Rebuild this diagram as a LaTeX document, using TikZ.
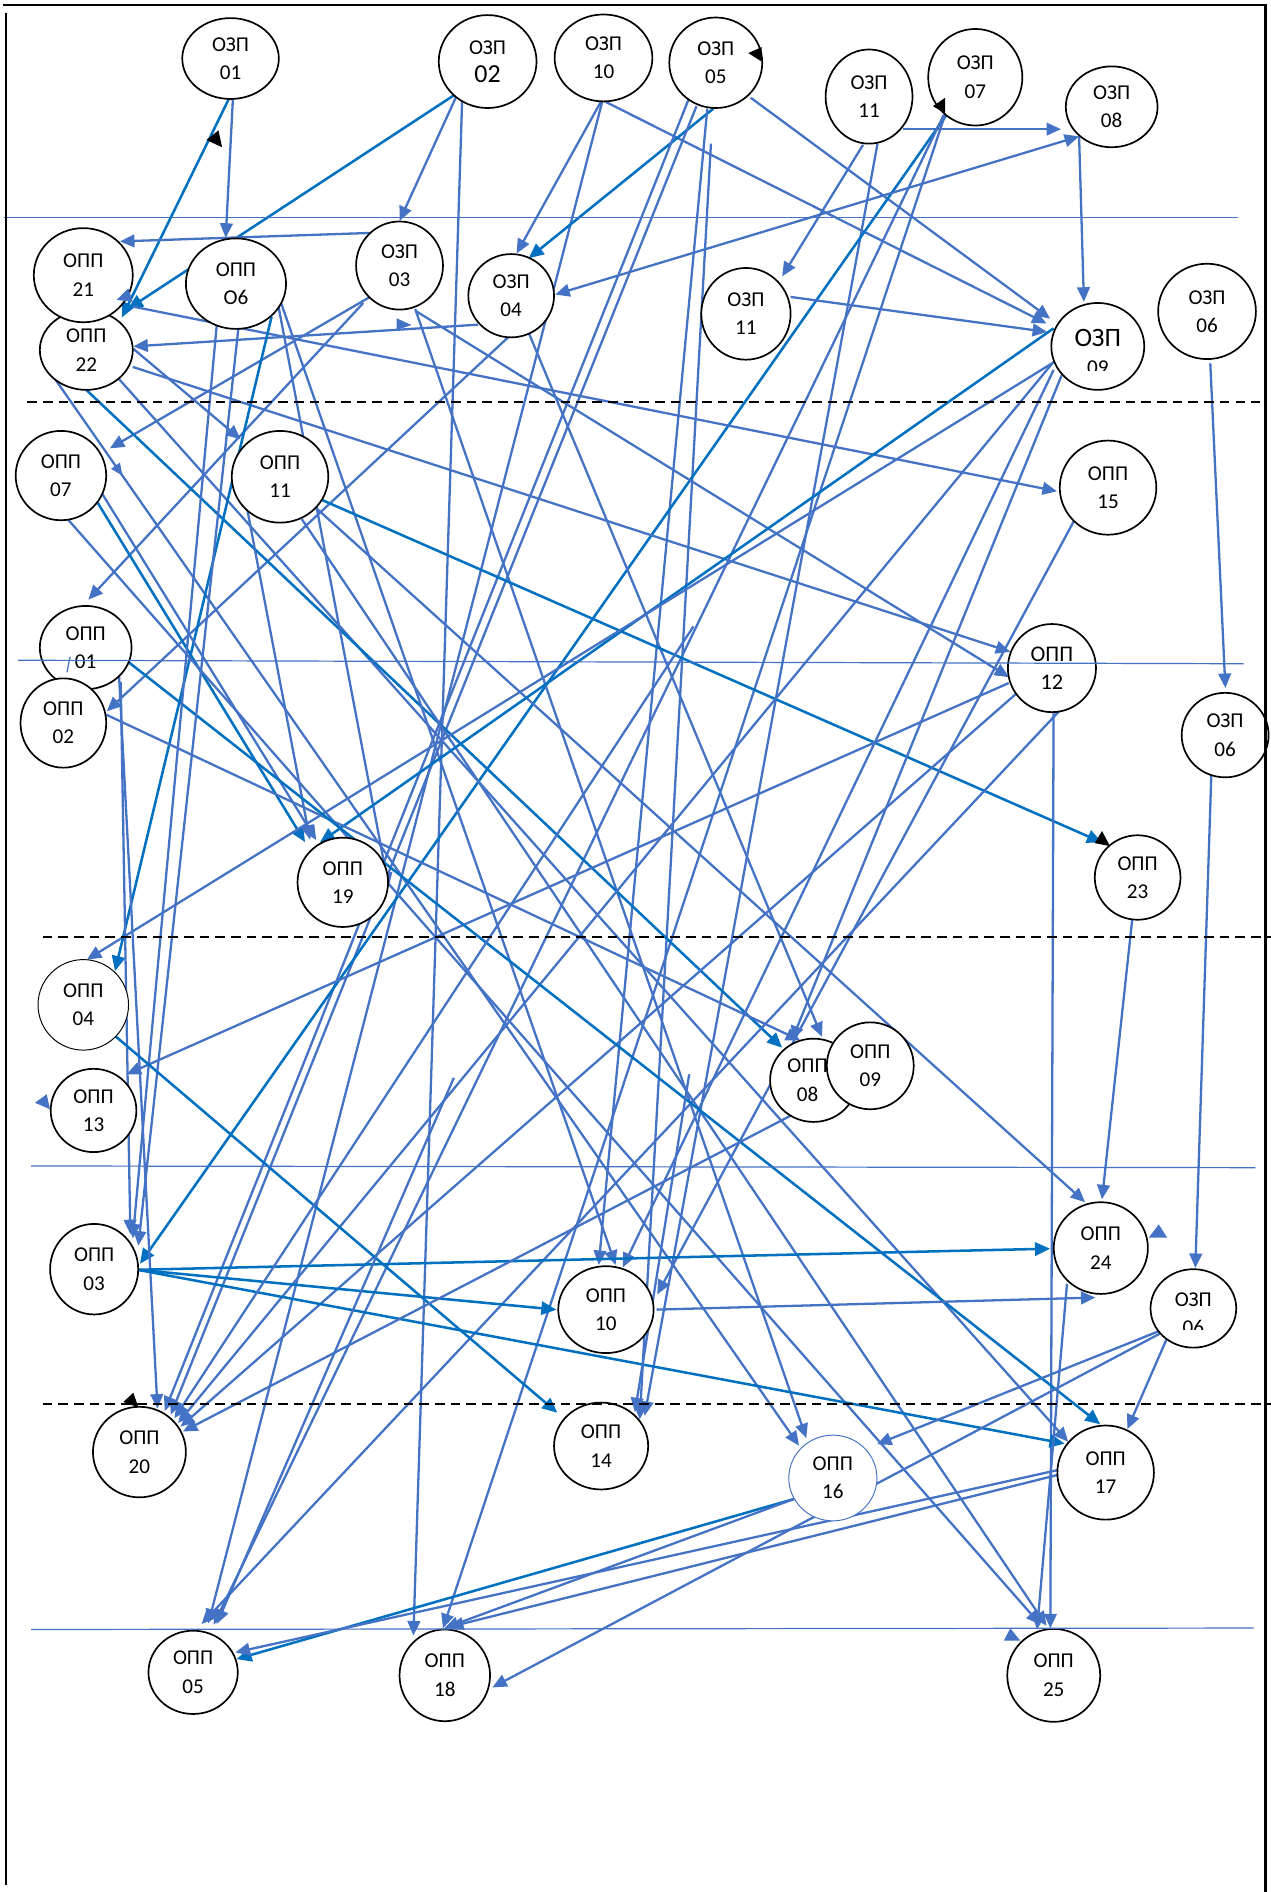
\documentclass[tikz,border=0pt]{standalone}
\usepackage{fontspec}
\setmainfont{Carlito}
\usetikzlibrary{calc,arrows.meta,shapes.geometric}
\definecolor{lblue}{HTML}{4472C4}
\definecolor{dblue}{HTML}{0070C0}
\pgfdeclarelayer{edges}
\pgfsetlayers{edges,main}
\newcommand\conn[5]{\draw[#1] ($(#2)+(#3)$) -- ($(#4)+(#5)$);}
\newcommand\fconn[4]{\draw[#1] (#2) -- ($(#3)+(#4)$);}
\begin{document}
\begin{tikzpicture}[x=1pt,y=-1pt,
  nd/.style={ellipse,draw=black,line width=1.4pt,fill=white,inner sep=0pt,align=center,font=\fontsize{17.5}{23.5}\selectfont},
  txt/.style={inner sep=0pt,align=center,font=\fontsize{17.5}{23.5}\selectfont},
  lb/.style={draw=lblue,line width=1.9pt,-{Triangle[length=12pt,width=10.5pt]}},
  lbb/.style={draw=lblue,line width=1.9pt,{Triangle[length=12pt,width=10.5pt]}-{Triangle[length=12pt,width=10.5pt]}},
  db/.style={draw=dblue,line width=2.1pt,-{Triangle[length=12.5pt,width=11pt]}},
  hl/.style={draw=lblue,line width=1pt},
  dl/.style={draw=black,line width=1.5pt,dash pattern=on 8pt off 5pt},
  fr/.style={draw=black,line width=1.9pt}]
\useasboundingbox (0,0) rectangle (1053,1567.5);

% ---------- nodes ----------
\node[nd,minimum width=80pt,minimum height=67pt] (ozp01) at (191,48.5) {ОЗП\\01};
\node[nd,minimum width=81pt,minimum height=77pt] (ozp02) at (404,51) {ОЗП\\{\fontsize{21.5}{23}\selectfont 02}};
\node[nd,minimum width=81pt,minimum height=72pt] (ozp10) at (500,48) {ОЗП\\10};
\node[nd,minimum width=77pt,minimum height=75pt] (ozp05) at (593,52) {ОЗП\\05};
\node[nd,minimum width=72pt,minimum height=78pt] (ozp11a) at (720,80) {ОЗП\\11};
\node[nd,minimum width=78pt,minimum height=80pt] (ozp07) at (808,64) {ОЗП\\07};
\node[nd,minimum width=76pt,minimum height=67pt] (ozp08) at (921,88.5) {ОЗП\\08};
\node[nd,minimum width=77pt,minimum height=66pt] (opp22) at (71.5,290) {ОПП\\22};
\node[nd,minimum width=82pt,minimum height=78pt] (opp21) at (69,228) {ОПП\\21};
\node[nd,minimum width=83pt,minimum height=75pt] (opp06) at (195.5,235) {ОПП\\О6};
\node[nd,minimum width=72pt,minimum height=73pt] (ozp03) at (331,220) {ОЗП\\03};
\node[nd,minimum width=71pt,minimum height=69pt] (ozp04) at (423.5,245) {ОЗП\\04};
\node[nd,minimum width=74pt,minimum height=76pt] (ozp11b) at (618,260) {ОЗП\\11};
\node[nd,minimum width=77pt,minimum height=72pt] (ozp09) at (909.5,287) {};
\begin{scope}
\clip (870,255) rectangle (950,307);
\node[txt] (ozp09t) at (909.5,291.5) {{\fontsize{22}{23}\selectfont ОЗП}\\09};
\end{scope}
\node[nd,minimum width=81pt,minimum height=79pt] (ozp06a) at (1000,258) {ОЗП\\06};
\node[nd,minimum width=75pt,minimum height=74pt] (opp07) at (50.5,394) {ОПП\\07};
\node[nd,minimum width=80pt,minimum height=76pt] (opp11) at (232,395) {ОПП\\11};
\node[nd,minimum width=80pt,minimum height=78pt] (opp15) at (918,404) {ОПП\\15};
\node[nd,minimum width=76pt,minimum height=69pt] (opp01) at (71,536.5) {ОПП\\01};
\node[nd,minimum width=71pt,minimum height=74pt] (opp02) at (52.5,599) {ОПП\\02};
\node[nd,minimum width=73pt,minimum height=73pt,font=\fontsize{18.5}{23.5}\selectfont] (opp12) at (871.5,553.5) {ОПП\\12};
\node[nd,minimum width=72pt,minimum height=70pt] (ozp06b) at (1015,609) {ОЗП\\06};
\node[nd,minimum width=75pt,minimum height=74pt] (opp19) at (284,731) {ОПП\\19};
\node[nd,minimum width=71pt,minimum height=70pt] (opp23) at (942.5,727) {ОПП\\23};
\node[nd,line width=0.8pt,minimum width=75pt,minimum height=75pt] (opp04) at (69,832.5) {ОПП\\04};
\node[nd,minimum width=72pt,minimum height=69pt] (opp08) at (674,895) {\hspace*{-10pt}ОПП\\\hspace*{-10pt}08};
\node[nd,minimum width=72pt,minimum height=72pt] (opp09) at (721,883) {ОПП\\09};
\node[nd,minimum width=71pt,minimum height=69pt] (opp13) at (77.5,920) {ОПП\\13};
\node[nd,minimum width=73pt,minimum height=75pt] (opp03) at (78,1051.5) {ОПП\\03};
\node[nd,minimum width=78pt,minimum height=76pt] (opp24) at (912,1034) {ОПП\\24};
\node[nd,minimum width=79pt,minimum height=72pt] (opp10) at (502,1085) {ОПП\\10};
\node[nd,minimum width=71pt,minimum height=65pt] (ozp06c) at (988.7,1084) {};
\begin{scope}
\clip (945,1045) rectangle (1035,1101.5);
\node[txt] (ozp06ct) at (988.7,1088.5) {ОЗП\\06};
\end{scope}
\node[nd,minimum width=77pt,minimum height=75pt] (opp20) at (115.5,1203) {ОПП\\20};
\node[nd,minimum width=78pt,minimum height=72pt] (opp14) at (498,1198) {ОПП\\14};
\node[nd,draw=lblue,line width=0.8pt,minimum width=73pt,minimum height=71pt] (opp16) at (690,1224.5) {ОПП\\16};
\node[nd,minimum width=80pt,minimum height=78pt] (opp17) at (916,1220) {ОПП\\17};
\node[nd,minimum width=74pt,minimum height=69pt] (opp05) at (160,1385.5) {ОПП\\05};
\node[nd,minimum width=75pt,minimum height=76pt] (opp18) at (368.5,1388) {ОПП\\18};
\node[nd,minimum width=77pt,minimum height=77pt] (opp25) at (873,1388) {ОПП\\25};

\coordinate (f1) at (589,119);
\coordinate (f3) at (574.5,519);
\coordinate (f4) at (571,890);
\coordinate (f5) at (376,893);

% ---------- connectors (behind nodes) ----------
\begin{pgfonlayer}{edges}
\conn{lb}{ozp01}{2,32.5}{opp06}{-8.5,-38}
\conn{db}{ozp01}{1,28.5}{opp22}{29.5,-27}
\conn{db}{ozp02}{-28,28}{opp22}{34.5,-34}
\conn{lb}{ozp02}{-26,29}{ozp03}{0,-37}
\conn{lb}{ozp02}{-21,28}{opp18}{-26,-33}
\conn{lb}{ozp10}{-2,36}{ozp04}{4.5,-35}
\conn{lb}{ozp10}{1,36}{ozp09}{-42.5,-19}
\conn{lb}{ozp10}{-1,36}{opp05}{12.6,-40.5}
\conn{db}{ozp05}{-2,38}{ozp04}{14.5,-31}
\conn{lb}{ozp05}{29,29}{ozp09}{-39.5,-23}
\conn{lb}{ozp05}{-22,29}{opp20}{21,-34}
\conn{lb}{ozp05}{-16,36}{opp20}{26,-31}
\conn{lb}{ozp05}{-7,38}{opp10}{-6,-37}
\fconn{lb}{f1}{opp14}{32,-22}
\conn{lb}{ozp11a}{28,27}{ozp08}{-42,18.5}
\conn{lb}{ozp11a}{-5,40}{ozp11b}{30,-31}
\conn{lb}{ozp11a}{7,39}{opp14}{36,-25}
\conn{db}{ozp07}{-23,30}{opp03}{38,-4.5}
\conn{lb}{ozp07}{-26,31}{opp05}{17,-39.5}
\conn{lb}{ozp07}{-25,31}{opp18}{-1.5,-39}
\conn{lb}{ozp08}{-27,24.5}{ozp09}{-11.5,-37}
\conn{lbb}{ozp08}{-27,24.5}{ozp04}{36.5,-1}
\conn{lb}{ozp03}{-24.5,-27}{opp21}{30.4,-28}
\conn{lb}{ozp03}{-24.5,26}{opp07}{40.5,-22.5}
\conn{lb}{ozp03}{-30,31}{opp01}{2.2,-39.7}
\conn{lb}{ozp03}{14,38}{opp12}{-35.5,7.5}
\conn{lb}{ozp03}{13,36}{opp16}{-22,-33}
\conn{lb}{ozp04}{-27.5,24}{opp22}{39,-3}
\conn{lb}{ozp04}{-2,34}{opp02}{36,-9.7}
\conn{lb}{ozp04}{10.5,21}{opp08}{7,-36}
\conn{lb}{ozp11b}{37,-14}{ozp09}{-42,-12}
\conn{lb}{opp21}{41,26}{opp15}{-42.3,3}
\conn{lb}{opp22}{38.5,14}{opp12}{-34.5,-13.5}
\conn{lb}{opp22}{39,-1}{opp11}{-32.6,-31}
\conn{lb}{opp11}{30,26}{opp24}{-13,-38}
\conn{lb}{opp22}{26.5,23.4}{opp17}{-31,-25.5}
\conn{db}{opp22}{0,33}{opp08}{-26,-27}
\conn{lb}{opp22}{-27.3,22}{opp16}{-28,-26.8}
\conn{lb}{opp06}{32.5,2}{opp10}{8,-37}
\conn{db}{opp06}{29.5,27.4}{opp04}{26.3,-28}
\conn{lb}{opp06}{34.5,15}{opp19}{38,4}
\conn{db}{opp07}{29.5,21}{opp19}{-31.3,-33.4}
\conn{lb}{opp07}{33.5,14}{opp19}{-22,-35}
\conn{lb}{opp07}{6,36.6}{opp25}{-11,-42}
\conn{lb}{opp11}{-27.6,24.6}{opp19}{-27.2,-35.3}
\conn{db}{opp11}{32,18}{opp23}{-29.5,-29}
\conn{lb}{opp11}{18,35}{opp25}{-6,-41}
\conn{lb}{opp15}{-28.4,27.9}{opp10}{42.5,-12.6}
\conn{lb}{opp12}{-35.8,12.4}{opp13}{27.5,-30}
\conn{lb}{opp12}{15.2,25.9}{opp05}{7,-40}
\conn{lb}{opp12}{-26.5,18.5}{opp20}{34,-21}
\conn{lb}{opp12}{1.4,30.3}{opp25}{-2.8,-39}
\conn{lb}{ozp06a}{2.7,43}{ozp06b}{0.2,-39}
\conn{lb}{ozp06b}{-11.4,31.5}{ozp06c}{1.6,-33.5}
\conn{lb}{opp23}{-4.5,35}{opp24}{1,-40.4}
\conn{db}{ozp09}{-36.6,-15}{opp19}{-19,-33}
\conn{lb}{ozp09}{-37.9,14}{opp04}{3,-37.5}
\conn{lb}{ozp09}{-36,12}{opp20}{32,-24}
\conn{lb}{ozp09}{-36.6,19.5}{opp10}{14,-35}
\conn{lb}{ozp09}{-30,24}{opp08}{-18,-33}
\conn{lb}{opp02}{35.3,-7}{opp08}{-11,-33}
\conn{db}{opp01}{33.9,10.8}{opp17}{-4.4,-40}
\conn{lb}{opp01}{27,11.5}{opp20}{15,-36}
\conn{lb}{opp01}{29,28.5}{opp03}{30,-29}
\conn{lb}{opp06}{-16,35}{opp03}{32,-25.5}
\conn{lb}{opp06}{2,37}{opp03}{36.6,-19.5}
\conn{db}{opp04}{26.3,25.7}{opp14}{-36.3,-27.6}
\conn{db}{opp03}{36,0.5}{opp24}{-42,0.5}
\conn{db}{opp03}{36,0.5}{opp10}{-41,0}
\conn{db}{opp03}{36,0.5}{opp17}{-34,-24}
\conn{lb}{opp10}{42,0}{opp24}{-4.5,41}
\conn{lb}{opp08}{-16.4,28}{opp20}{36,-17}
\fconn{lb}{f3}{opp20}{29,-28}
\fconn{lb}{f4}{opp14}{28,-28}
\fconn{lb}{f5}{opp05}{19.5,-40}
\conn{lb}{opp24}{-28,29.6}{opp25}{-13.8,-38}
\conn{db}{opp16}{-32.2,17.4}{opp05}{36,-11}
\conn{lb}{opp16}{-32.2,17.4}{opp18}{-0.5,-39}
\conn{lb}{opp17}{-40,-2}{opp05}{35,-16.5}
\conn{lb}{opp17}{-40,2}{opp18}{3.5,-40}
\conn{lb}{ozp06c}{-28,21}{opp18}{39.4,10}
\conn{lb}{ozp06c}{-29,19}{opp16}{36.6,-28}
\conn{lb}{ozp06c}{-22,25}{opp17}{18,-36}
\end{pgfonlayer}

% ---------- stray arrowheads and marks ----------
\fill[black] (171,116) -- (181,108) -- (184,122) -- cycle;
\fill[black] (620,44) -- (631,39) -- (631,51) -- cycle;
\fill[black] (773,88) -- (783,81) -- (783,94) -- cycle;
\fill[black] (907,698.5) -- (913,688.5) -- (919.6,701) -- cycle;
\fill[black] (102.2,1161.5) -- (110.5,1153.8) -- (114.6,1166) -- cycle;
\fill[lblue] (29,913.6) -- (38.7,906.6) -- (41.4,919) -- cycle;
\fill[lblue] (951.7,1025.4) -- (960,1014.4) -- (967,1025.4) -- cycle;
\fill[lblue] (831.6,1359.3) -- (837,1349) -- (845.3,1359.3) -- cycle;
\fill[lblue] (96.7,248.5) -- (106.3,238.9) -- (110,250) -- cycle;
\fill[lblue] (328.6,263.7) -- (341,269.3) -- (328.6,273.4) -- cycle;
\fill[lblue] (101.4,394) -- (99.4,383.2) -- (92,388.4) -- cycle;
\draw[lblue,line width=1pt] (58,544) -- (55.5,557);

% ---------- horizontal lines ----------
\draw[hl] (3,180.3) -- (1026,180.3);
\draw[dl] (22.6,333.3) -- (1044,333.3);
\draw[hl] (15,547) -- (1030.4,549.9);
\draw[dl] (35.4,776.4) -- (1053,776.4);
\draw[hl] (25.7,966) -- (1040,967.4);
\draw[dl] (35.4,1163) -- (1053,1163);
\draw[hl] (25.7,1350) -- (1038.7,1348.8);

% ---------- frame ----------
\draw[fr] (2.8,4.1) -- (1048.4,4.1);
\draw[fr] (5,11) -- (5,1562);
\draw[fr] (1048.4,3.2) -- (1048.4,1567.5);
\end{tikzpicture}
\end{document}
